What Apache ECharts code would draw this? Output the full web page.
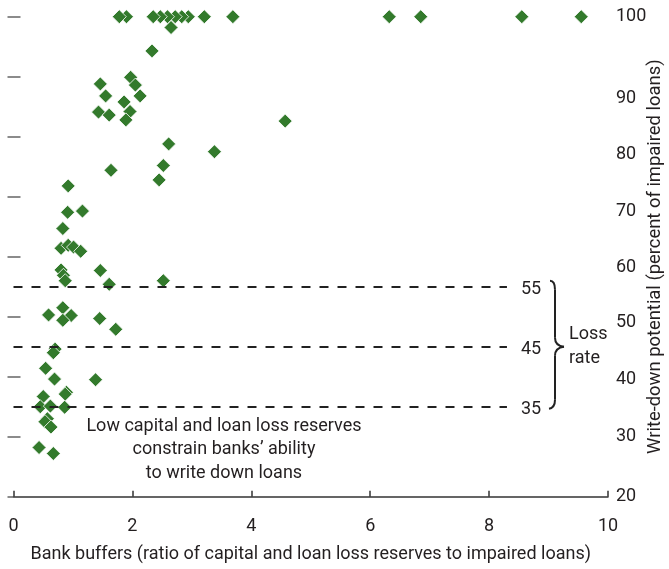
<!DOCTYPE html>
<html>
<head>
<meta charset="utf-8">
<script src="https://cdn.jsdelivr.net/npm/echarts@6/dist/echarts.min.js"></script>
<style>
html,body{margin:0;padding:0;background:#fff;}
#chart{width:669px;height:569px;}
</style>
</head>
<body>
<div id="chart"></div>
<script>
// ---- data ----
var bufferRatio = [
  9.55, 8.55, 6.85, 6.32, 3.69, 3.21, 2.94, 2.83, 2.72, 2.59, 2.47, 2.35, 1.90, 1.78,
  2.65, 2.33, 1.97, 2.05, 1.46, 1.55, 2.13, 1.86, 1.96, 1.43, 1.61, 1.89, 4.57,
  2.61, 3.38, 2.52, 1.64, 2.45, 0.92, 0.91, 1.16, 0.83, 0.80, 0.92, 1.01, 1.13,
  0.80, 0.84, 0.87, 1.46, 1.61, 2.52, 0.83, 0.59, 0.97, 0.83, 1.45, 1.72,
  0.70, 0.67, 0.54, 0.69, 1.38, 0.89, 0.87, 0.50, 0.45, 0.62, 0.86, 0.57, 0.53, 0.63, 0.43, 0.67
];
var writeDown = [
  100, 100, 100, 100, 100, 100, 100, 100, 100, 100, 100, 100, 100, 100,
  98.2, 94.3, 89.9, 88.6, 88.8, 86.8, 86.8, 85.8, 84.2, 84.1, 83.6, 82.8, 82.6,
  78.8, 77.5, 75.2, 74.4, 72.8, 71.8, 67.4, 67.6, 64.7, 61.4, 61.9, 61.6, 60.9,
  57.8, 56.9, 56.0, 57.7, 55.4, 56.0, 51.5, 50.3, 50.2, 49.4, 49.7, 47.9,
  44.6, 44.0, 41.4, 39.6, 39.5, 37.4, 37.1, 36.7, 35.0, 35.1, 34.9, 33.0, 32.5, 31.6, 28.2, 27.2
];
var lossRates = [55, 45, 35];
var lossLineEnd = 8.3;
var xTicks = [0, 2, 4, 6, 8, 10];
var yTicks = [20, 30, 40, 50, 60, 70, 80, 90, 100];
var xName = 'Bank buffers (ratio of capital and loan loss reserves to impaired loans)';
var yName = 'Write-down potential (percent of impaired loans)';
var noteText = 'Low capital and loan loss reserves\nconstrain banks\u2019 ability\nto write down loans';
var braceText = 'Loss\nrate';

// ---- styling ----
var FONT = "'Liberation Sans Narrow', 'Arial Narrow', 'Roboto', sans-serif";
var TXT = '#231f20';
var GREEN = '#337a2c';
// vertical shift of right-axis labels (px, downward) as seen in the reference
var labelShift = {100: 0, 90: 22, 80: 18, 70: 15, 60: 11, 50: 6, 40: 3, 30: 0, 20: 0};
var rich = {};
yTicks.forEach(function (v) {
  rich['o' + v] = {
    fontFamily: FONT, fontSize: 18, color: TXT,
    padding: [2 * labelShift[v], 0, 0, 0]
  };
});

var points = bufferRatio.map(function (x, i) { return [x, writeDown[i]]; });

var markData = lossRates.map(function (r) {
  return [{ coord: [0, r], name: String(r) }, { coord: [lossLineEnd, r] }];
});

var chart = echarts.init(document.getElementById('chart'), null, { renderer: 'canvas' });
var option = {
  animation: false,
  backgroundColor: '#ffffff',
  textStyle: { fontFamily: FONT, color: TXT },
  grid: { left: 13.5, right: 61, top: 16.7, bottom: 72.3, containLabel: false, outerBoundsMode: 'none' },
  xAxis: {
    type: 'value', min: xTicks[0], max: xTicks[xTicks.length - 1], interval: 2,
    name: xName, nameLocation: 'middle', nameGap: 49,
    nameTextStyle: { fontFamily: FONT, fontSize: 18, color: TXT },
    axisLine: { show: true, lineStyle: { color: '#333', width: 1.5 } },
    axisTick: { show: true, inside: true, length: 6, lineStyle: { color: '#333', width: 1.5 } },
    axisLabel: { fontFamily: FONT, fontSize: 18, color: TXT, margin: 21 },
    splitLine: { show: false }
  },
  yAxis: [
    {
      type: 'value', position: 'right', min: 20, max: 100, interval: 10,
      name: yName, nameLocation: 'middle', nameGap: 38, nameRotate: 90,
      nameMoveOverlap: false,
      nameTextStyle: { fontFamily: FONT, fontSize: 18.4, color: TXT },
      axisLine: { show: false },
      axisTick: { show: true, inside: true, length: 6, lineStyle: { color: '#666', width: 1.5 } },
      axisLabel: {
        margin: 8, fontFamily: FONT, fontSize: 18, color: TXT,
        formatter: function (v) { return '{o' + v + '|' + v + '}'; },
        rich: rich
      },
      splitLine: { show: false }
    },
    {
      type: 'value', position: 'left', min: 20, max: 100, interval: 10,
      axisLine: { show: false },
      axisTick: { show: true, inside: true, length: 7, lineStyle: { color: '#666', width: 1.5 } },
      axisLabel: { show: false },
      splitLine: { show: false }
    }
  ],
  series: [{
    type: 'scatter',
    yAxisIndex: 0,
    symbol: 'diamond',
    symbolSize: 14,
    itemStyle: { color: GREEN, borderColor: '#ffffff', borderWidth: 0.8, opacity: 1 },
    data: points,
    silent: true,
    markLine: {
      silent: true,
      symbol: ['none', 'none'],
      lineStyle: { color: '#222', width: 2, type: [9, 9] },
      label: {
        show: true, position: 'end', distance: 14,
        formatter: '{b}', fontFamily: FONT, fontSize: 18, color: TXT,
        offset: [0, 3]
      },
      emphasis: { disabled: true },
      data: markData
    }
  }]
};
chart.setOption(option);

// annotations positioned from data coordinates
var pTop = chart.convertToPixel({ xAxisIndex: 0, yAxisIndex: 0 }, [0, lossRates[0]]);
var pMid = chart.convertToPixel({ xAxisIndex: 0, yAxisIndex: 0 }, [0, lossRates[1]]);
var pBot = chart.convertToPixel({ xAxisIndex: 0, yAxisIndex: 0 }, [0, lossRates[2]]);
var noteP = chart.convertToPixel({ xAxisIndex: 0, yAxisIndex: 0 }, [3.54, 27.8]);
var bx = 555, tipX = 564;
var yT = pTop[1] - 6, yM = pMid[1], yB = pBot[1] + 1;
var braceStyle = { stroke: '#222', lineWidth: 2, fill: 'none' };

function curve(x1, y1, cx, cy, x2, y2) {
  return { type: 'bezierCurve', silent: true,
    shape: { x1: x1, y1: y1, cpx1: cx, cpy1: cy, x2: x2, y2: y2 },
    style: braceStyle };
}
function seg(x1, y1, x2, y2) {
  return { type: 'line', silent: true,
    shape: { x1: x1, y1: y1, x2: x2, y2: y2 }, style: braceStyle };
}

chart.setOption({
  graphic: [
    curve(bx - 5, yT, bx, yT, bx, yT + 9),
    seg(bx, yT + 9, bx, yM - 9),
    curve(bx, yM - 9, bx, yM - 1, tipX, yM),
    curve(tipX, yM, bx, yM + 1, bx, yM + 9),
    seg(bx, yM + 9, bx, yB - 8),
    curve(bx, yB - 8, bx, yB, bx - 6, yB + 1),
    {
      type: 'text', silent: true, x: 569, y: yM,
      style: {
        text: braceText, font: '18px ' + FONT, fill: TXT,
        align: 'left', verticalAlign: 'middle', lineHeight: 24
      }
    },
    {
      type: 'text', silent: true, x: noteP[0], y: noteP[1],
      style: {
        text: noteText, font: '18px ' + FONT, fill: TXT,
        align: 'center', verticalAlign: 'middle', lineHeight: 23.5
      }
    }
  ]
});
</script>
</body>
</html>
